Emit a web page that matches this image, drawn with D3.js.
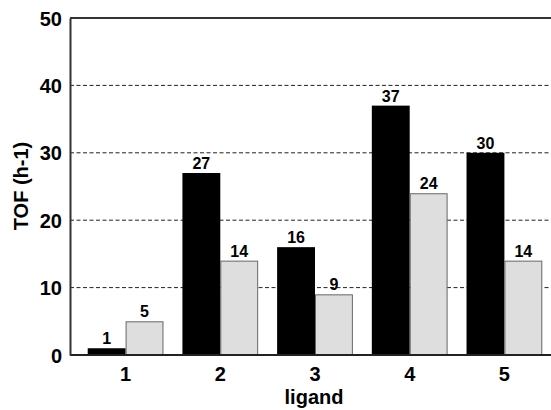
<!DOCTYPE html>
<html><head><meta charset="utf-8">
<script src="https://cdn.jsdelivr.net/npm/d3@7"></script>
<style>body{margin:0;background:#fff}svg{display:block}</style>
</head><body>
<svg id="c" width="551" height="410"></svg>
<script>
const categories = ["1","2","3","4","5"];
const seriesA = [1,27,16,37,30];
const seriesB = [5,14,9,24,14];
const yTicks = [0,10,20,30,40,50];

const svg = d3.select("#c");
const font = "Liberation Sans, Arial, Helvetica, sans-serif";
const L=70, R=560, T=18, B=355;
const x = d3.scaleBand().domain(categories).range([L,R]).paddingInner(0.2).paddingOuter(0.187);
const xs = d3.scaleBand().domain(["a","b"]).range([0,x.bandwidth()]);
const y = d3.scaleLinear().domain([0,50]).range([B,T]);

// gridlines
svg.append("g").selectAll("line").data(yTicks.filter(d=>d>0&&d<50)).join("line")
  .attr("x1",L).attr("x2",R).attr("y1",d=>y(d)).attr("y2",d=>y(d))
  .attr("stroke","#222").attr("stroke-width",1).attr("stroke-dasharray","4,2.5");

const data = categories.map((c,i)=>({c,a:seriesA[i],b:seriesB[i]}));
const g = svg.append("g");
data.forEach(d=>{
  g.append("rect").attr("x",x(d.c)+xs("a")).attr("width",xs.bandwidth())
    .attr("y",y(d.a)).attr("height",B-y(d.a)).attr("fill","#000");
  g.append("rect").attr("x",x(d.c)+xs("b")+0.5).attr("width",xs.bandwidth()-1)
    .attr("y",y(d.b)+0.5).attr("height",B-y(d.b)-0.5).attr("fill","#dedede")
    .attr("stroke","#666").attr("stroke-width",1);
  g.append("text").attr("x",x(d.c)+xs("a")+xs.bandwidth()/2).attr("y",y(d.a)-4)
    .attr("text-anchor","middle").attr("font-family",font).attr("font-weight","bold")
    .attr("font-size",16).text(d.a);
  g.append("text").attr("x",x(d.c)+xs("b")+xs.bandwidth()/2).attr("y",y(d.b)-4)
    .attr("text-anchor","middle").attr("font-family",font).attr("font-weight","bold")
    .attr("font-size",16).text(d.b);
});

// frame
svg.append("line").attr("x1",L).attr("x2",R).attr("y1",y(50)).attr("y2",y(50)).attr("stroke","#333").attr("stroke-width",2);
svg.append("line").attr("x1",L).attr("x2",R).attr("y1",B).attr("y2",B).attr("stroke","#222").attr("stroke-width",2);

// axes
const yAxis = d3.axisLeft(y).tickValues(yTicks).tickSize(0).tickPadding(8);
const ya = svg.append("g").attr("transform",`translate(${L},0)`).call(yAxis);
ya.select(".domain").attr("stroke","#333").attr("stroke-width",2);
ya.selectAll("text").attr("font-family",font).attr("font-weight","bold").attr("font-size",20).attr("fill","#000").attr("dy","0.35em");

const xAxis = d3.axisBottom(x).tickSize(0).tickPadding(12);
const xa = svg.append("g").attr("transform",`translate(0,${B})`).call(xAxis);
xa.select(".domain").remove();
xa.selectAll("text").attr("font-family",font).attr("font-weight","bold").attr("font-size",20).attr("fill","#000");

svg.append("text").attr("x",314).attr("y",404).attr("text-anchor","middle")
  .attr("font-family",font).attr("font-weight","bold").attr("font-size",20).text("ligand");
svg.append("text").attr("transform","translate(28,186) rotate(-90)").attr("text-anchor","middle")
  .attr("font-family",font).attr("font-weight","bold").attr("font-size",20).text("TOF (h-1)");
</script>
</body></html>
